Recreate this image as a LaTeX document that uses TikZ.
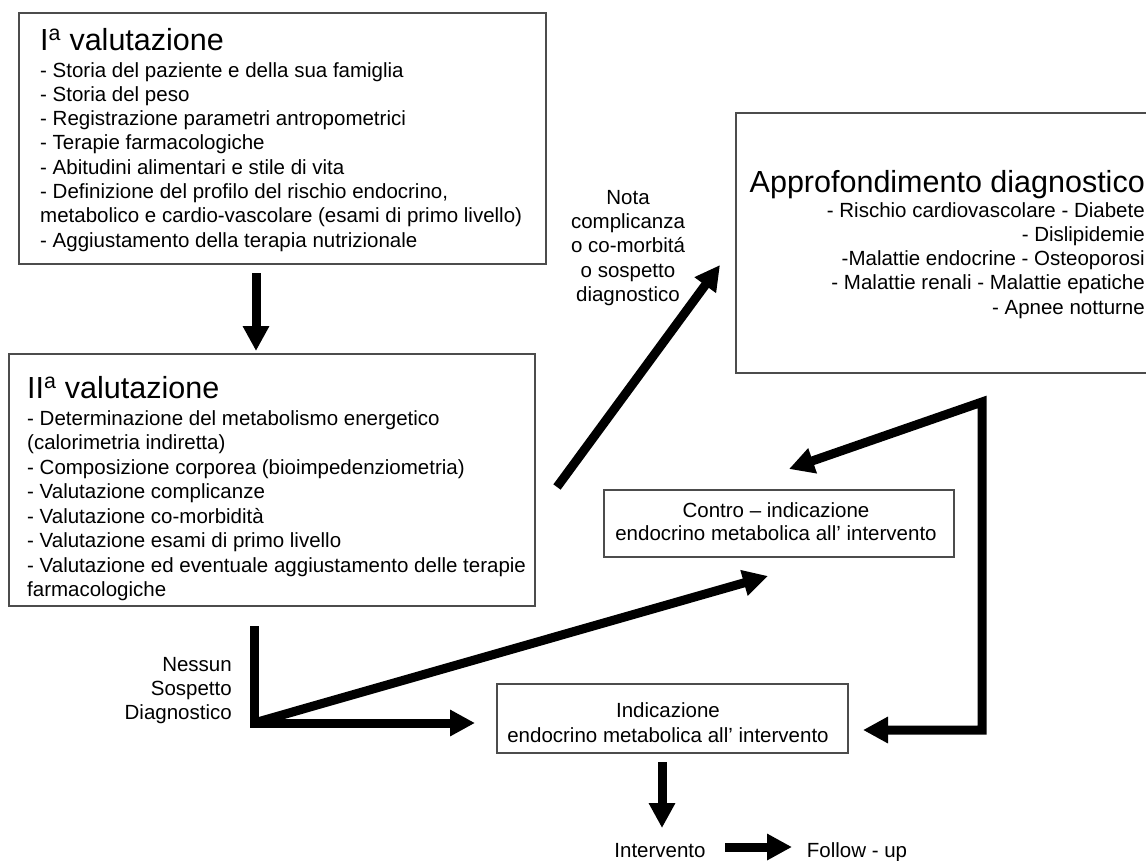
\documentclass[tikz,border=0pt]{standalone}
\usepackage{fontspec}
\setmainfont{Liberation Sans}
\usetikzlibrary{arrows.meta}

\tikzset{
  marco/.style={draw=black!70, line width=1.5pt, inner sep=0pt, anchor=north west},
  titulo/.style={font=\fontsize{30.5}{36}\selectfont, inner sep=0pt},
  texto/.style={font=\fontsize{20.5}{24.3}\selectfont, inner sep=0pt},
  flecha/.style={line width=9pt, -{Triangle[length=25pt,width=25pt]}},
  dobleflecha/.style={line width=9pt, {Triangle[length=25pt,width=25pt]}-{Triangle[length=25pt,width=25pt]}},
}

\begin{document}
\begin{tikzpicture}[x=1pt,y=-1pt]
  \useasboundingbox (0,0) rectangle (1146,860);
  \clip (0,0) rectangle (1146,860);

  % Cajas
  \node[marco, minimum width=527pt, minimum height=251pt] (val1) at (18,12) {};
  \node[marco, minimum width=526pt, minimum height=252pt] (val2) at (8,353) {};
  \node[marco, minimum width=450pt, minimum height=260pt] (appr) at (735,112) {};
  \node[marco, minimum width=350pt, minimum height=67pt] (contro) at (603,489) {};
  \node[marco, minimum width=351pt, minimum height=69pt] (indic) at (496,683) {};

  % Primera valutazione
  \node[titulo, anchor=base west] (t1) at (40,50) {I\textsuperscript{a} valutazione};
  \node[texto, anchor=north west, align=left] (b1) at (40,62) {- Storia del paziente e della sua famiglia\\
    - Storia del peso\\
    - Registrazione parametri antropometrici\\
    - Terapie farmacologiche\\
    - Abitudini alimentari e stile di vita\\
    - Definizione del profilo del rischio endocrino,\\
    metabolico e cardio-vascolare (esami di primo livello)\\
    - Aggiustamento della terapia nutrizionale};

  % Segunda valutazione
  \node[titulo, anchor=base west] (t2) at (27,398) {II\textsuperscript{a} valutazione};
  \node[texto, anchor=north west, align=left, font=\fontsize{20.5}{24.5}\selectfont] (b2) at (27,410) {- Determinazione del metabolismo energetico\\
    (calorimetria indiretta)\\
    - Composizione corporea (bioimpedenziometria)\\
    - Valutazione complicanze\\
    - Valutazione co-morbidità\\
    - Valutazione esami di primo livello\\
    - Valutazione ed eventuale aggiustamento delle terapie\\
    farmacologiche};

  % Approfondimento
  \node[titulo, anchor=base east] (t3) at (1145,192) {Approfondimento diagnostico};
  \node[texto, anchor=north east, align=right] (b3) at (1145,202) {- Rischio cardiovascolare - Diabete\\
    - Dislipidemie\\
    -Malattie endocrine - Osteoporosi\\
    - Malattie renali - Malattie epatiche\\
    - Apnee notturne};

  % Indicazioni
  \node[texto, anchor=north, align=center, font=\fontsize{20.5}{23.5}\selectfont] (ct) at (776,502) {Contro – indicazione\\ endocrino metabolica all’ intervento};
  \node[texto, anchor=north, align=center, font=\fontsize{20.5}{25}\selectfont] (it) at (668,702) {Indicazione\\ endocrino metabolica all’ intervento};

  % Etiquetas
  \node[texto, anchor=north, align=center] (nota) at (628,190) {Nota\\ complicanza\\ o co-morbitá\\ o sospetto\\ diagnostico};
  \node[texto, anchor=north east, align=right] (nessun) at (232,657) {Nessun\\ Sospetto\\ Diagnostico};
  \node[texto, anchor=base] (interv) at (660,857) {Intervento};
  \node[texto, anchor=base] (follow) at (857,857) {Follow - up};

  % Flechas
  \coordinate (a1) at (256,273);
  \coordinate (a2) at (256,351);
  \draw[flecha] (a1) -- (a2);

  \coordinate (n1) at (557,487);
  \coordinate (n2) at (720,265);
  \draw[flecha] (n1) -- (n2);

  \coordinate (r1) at (789,469);
  \coordinate (r2) at (982,402);
  \coordinate (r3) at (982,730);
  \coordinate (r4) at (863,730);
  \draw[dobleflecha] (r1) -- (r2) -- (r3) -- (r4);

  \coordinate (s1) at (254,626);
  \coordinate (s2) at (254,723);
  \coordinate (s3) at (475,723);
  \coordinate (s4) at (768,576);
  \draw[flecha] (s1) -- (s2) -- (s3);
  \draw[flecha] (s2) -- (s4);

  \coordinate (d1) at (662,762);
  \coordinate (d2) at (662,828);
  \draw[flecha] (d1) -- (d2);

  \coordinate (f1) at (725,847);
  \coordinate (f2) at (792,847);
  \draw[flecha] (f1) -- (f2);
\end{tikzpicture}
\end{document}
